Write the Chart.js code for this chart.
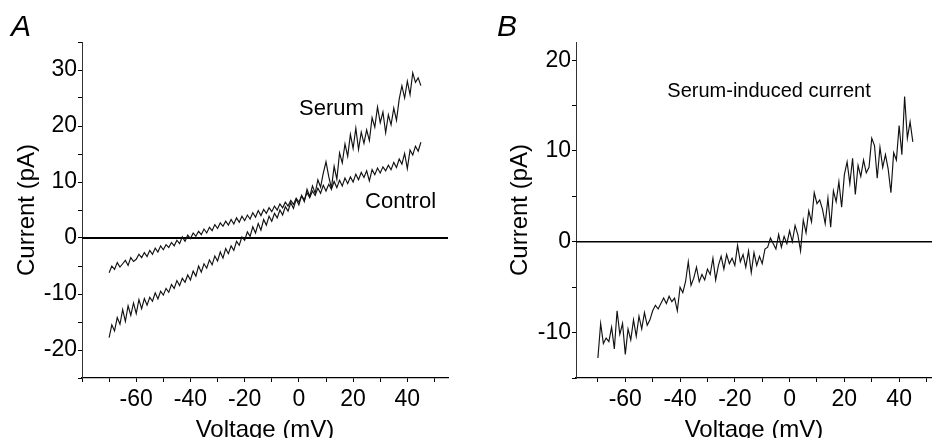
<!DOCTYPE html>
<html>
<head>
<meta charset="utf-8">
<title>I-V curves</title>
<script src="https://cdn.jsdelivr.net/npm/chart.js@4.4.0/dist/chart.umd.min.js"></script>
<style>
html, body { margin: 0; padding: 0; background: #fff; }
#wrap { position: relative; width: 932px; height: 438px; overflow: hidden; }
.box { position: absolute; top: 0; width: 466px; height: 438px; }
#boxA { left: 0; }
#boxB { left: 466px; }
.panel { position: absolute; top: 9px; font-family: "Liberation Sans", Arial, sans-serif; font-style: italic; font-size: 30px; color: #000; }
</style>
</head>
<body>
<div id="wrap">
  <div class="box" id="boxA"><canvas id="ivA" width="466" height="438"></canvas></div>
  <div class="box" id="boxB"><canvas id="ivB" width="466" height="438"></canvas></div>
  <div class="panel" style="left:11px;">A</div>
  <div class="panel" style="left:497px;">B</div>
</div>
<script>
// voltage steps (mV), same for every trace
var voltage = [
-70,-69,-68,-67,-66,-65,-64,-63,-62,-61,
-60,-59,-58,-57,-56,-55,-54,-53,-52,-51,
-50,-49,-48,-47,-46,-45,-44,-43,-42,-41,
-40,-39,-38,-37,-36,-35,-34,-33,-32,-31,
-30,-29,-28,-27,-26,-25,-24,-23,-22,-21,
-20,-19,-18,-17,-16,-15,-14,-13,-12,-11,
-10,-9,-8,-7,-6,-5,-4,-3,-2,-1,
0,1,2,3,4,5,6,7,8,9,
10,11,12,13,14,15,16,17,18,19,
20,21,22,23,24,25,26,27,28,29,
30,31,32,33,34,35,36,37,38,39,
40,41,42,43,44,45
];

// panel A, control (pA)
var controlCurrent = [
-6.2,-5.0,-5.6,-4.4,-5.2,-4.6,-4.0,-4.9,-3.5,-4.2,
-3.8,-2.9,-3.5,-2.6,-3.3,-2.2,-2.9,-1.8,-2.5,-1.4,
-2.1,-1.2,-1.7,-0.8,-1.4,-0.4,-1.0,0.2,-0.6,0.5,
-0.1,0.9,0.3,1.2,0.6,1.6,0.9,1.9,1.3,2.4,
1.7,2.7,2.1,3.0,2.3,3.3,2.5,3.6,2.8,3.9,
3.1,4.1,3.4,4.5,3.7,4.9,4.0,5.1,4.4,5.4,
4.7,5.7,5.0,6.1,5.4,6.4,5.7,6.7,6.0,7.1,
6.4,7.5,6.8,8.1,7.2,8.4,7.6,8.9,8.0,9.4,
8.4,9.6,8.7,10.1,9.0,10.3,9.3,10.7,9.7,10.9,
10.0,11.4,10.4,11.7,10.8,12.0,10.2,12.2,11.3,12.5,
11.6,12.7,12.0,13.0,12.2,13.5,12.6,14.1,13.2,15.1,
12.4,15.7,14.8,16.4,15.5,17.1
];

// panel A, serum (pA)
var serumCurrent = [
-17.8,-15.5,-16.6,-14.2,-15.4,-12.8,-14.9,-12.1,-13.8,-11.6,
-13.5,-11.0,-12.6,-10.8,-12.0,-10.6,-11.3,-9.8,-10.9,-9.5,
-10.2,-9.0,-9.7,-8.3,-9.0,-7.6,-8.5,-7.2,-7.9,-6.6,
-7.5,-5.9,-6.8,-5.0,-6.1,-4.6,-5.4,-3.9,-4.8,-3.2,
-4.1,-2.5,-3.6,-1.9,-2.8,-1.4,-2.2,-0.6,-1.3,0.2,
-0.4,1.1,0.3,2.0,0.9,2.6,1.4,3.3,2.3,3.9,
3.0,4.4,3.6,5.0,4.1,5.6,4.8,6.3,5.3,6.9,
5.9,7.6,6.5,8.7,7.4,9.3,8.0,10.4,9.1,11.6,
13.6,11.0,8.9,12.8,10.5,15.2,13.4,16.8,14.6,18.5,
16.0,19.6,15.8,18.9,16.9,19.3,17.4,21.5,19.8,23.4,
20.6,22.5,18.8,22.0,20.2,23.2,21.0,24.8,27.2,25.0,
28.0,25.6,29.5,27.8,28.6,27.2
];

// panel B, serum-induced current (pA)
var inducedCurrent = [
-12.8,-9.0,-11.2,-10.6,-11.0,-9.4,-11.8,-7.6,-10.2,-9.0,
-12.4,-9.6,-10.8,-8.6,-10.4,-8.2,-9.6,-7.8,-9.2,-8.6,
-7.6,-7.0,-7.4,-6.8,-6.2,-6.8,-6.0,-6.6,-6.2,-7.6,
-5.0,-5.6,-4.4,-2.2,-4.8,-4.0,-2.8,-4.4,-3.6,-4.2,
-3.0,-3.6,-1.8,-4.2,-2.6,-1.6,-3.0,-1.4,-2.4,-1.8,
-2.6,-0.4,-2.2,-1.4,-2.8,-1.0,-3.4,-1.2,-2.6,-1.6,
-2.4,-0.8,-0.6,0.4,-0.2,-0.8,0.8,-0.6,0.6,-0.2,
1.2,0.0,1.8,0.8,-1.0,2.4,1.0,3.4,2.2,5.4,
4.2,4.6,3.6,2.0,4.8,1.6,5.6,4.4,6.6,3.8,
7.4,8.8,6.4,9.2,5.2,8.4,7.2,9.0,7.6,8.2,
11.4,10.6,7.0,10.4,8.2,9.6,8.0,5.4,9.8,9.0,
12.8,9.6,16.0,11.4,13.2,11.0
];

// tick marks on the voltage axis, and the ones that get a number
var xTickMarks = [-80, -70, -60, -50, -40, -30, -20, -10, 0, 10, 20, 30, 40, 50];
var xLabels = [-60, -40, -20, 0, 20, 40];
var yLabelsA = [-20, -10, 0, 10, 20, 30];
var yLabelsB = [-10, 0, 10, 20];

var FONT = '"Liberation Sans", Arial, sans-serif';

function toPoints(xs, ys){
	var pts = [];
	for(var i=0;i<xs.length;i++){
		pts.push({x: xs[i], y: ys[i]});
	}
	return pts;
}

function trace(label, ys){
	return {
		label: label,
		data: toPoints(voltage, ys),
		borderColor: '#111',
		borderWidth: 1.15,
		pointRadius: 0,
		tension: 0,
		fill: false
	};
}

// zero current line + free text inside the plot
var zeroLine = {
	id: 'zeroLine',
	beforeDatasetsDraw: function(chart, args, opts){
		var ctx = chart.ctx;
		var y = chart.scales.y.getPixelForValue(0);
		ctx.save();
		ctx.strokeStyle = '#000';
		ctx.lineWidth = opts.width;
		ctx.beginPath();
		ctx.moveTo(chart.chartArea.left, y);
		ctx.lineTo(chart.chartArea.right, y);
		ctx.stroke();
		ctx.restore();
	}
};
var notes = {
	id: 'notes',
	afterDatasetsDraw: function(chart, args, opts){
		var ctx = chart.ctx;
		ctx.save();
		ctx.fillStyle = '#000';
		ctx.textAlign = 'center';
		ctx.textBaseline = 'middle';
		for(var i=0;i<opts.items.length;i++){
			var it = opts.items[i];
			ctx.font = it.size + 'px ' + FONT;
			ctx.fillText(it.text, chart.scales.x.getPixelForValue(it.x), chart.scales.y.getPixelForValue(it.y));
		}
		ctx.restore();
	}
};

function iv_chart(id, cfg){
	var ctx = document.getElementById(id).getContext('2d');
	return new Chart(ctx, {
		type: 'line',
		data: { datasets: cfg.datasets },
		plugins: [zeroLine, notes],
		options: {
			responsive: false,
			animation: false,
			layout: { padding: { top: 42, right: cfg.padRight, left: 0, bottom: 0 } },
			plugins: {
				legend: { display: false },
				tooltip: { enabled: false },
				zeroLine: { width: cfg.zeroWidth },
				notes: { items: cfg.notes }
			},
			scales: {
				x: {
					type: 'linear',
					min: cfg.xMin, max: cfg.xMax,
					afterFit: function(s){ s.height = 60; },
					afterBuildTicks: function(s){
						s.ticks = xTickMarks.filter(function(v){ return v >= cfg.xMin && v <= cfg.xMax; })
							.map(function(v){ return {value: v}; });
					},
					border: { display: true, color: '#000', width: 1.3 },
					grid: { display: true, drawOnChartArea: false, drawTicks: true, tickLength: 4, color: '#000' },
					ticks: {
						autoSkip: false, maxRotation: 0,
						color: '#000', padding: 4,
						font: { family: FONT, size: 23 },
						callback: function(v){ return xLabels.indexOf(v) >= 0 ? String(v) : ''; }
					},
					title: {
						display: true, text: 'Voltage (mV)', color: '#000',
						font: { family: FONT, size: 24, lineHeight: 1 },
						padding: { top: 0, bottom: -4 }
					}
				},
				y: {
					type: 'linear',
					min: cfg.yMin, max: cfg.yMax,
					afterFit: function(s){ s.width = cfg.yWidth; },
					border: { display: true, color: '#333', width: 1 },
					grid: { display: true, drawOnChartArea: false, drawTicks: true, tickLength: 4, color: '#000' },
					ticks: {
						stepSize: 5, includeBounds: false, autoSkip: false,
						color: '#000', padding: 1,
						font: { family: FONT, size: 23 },
						callback: function(v){ return cfg.yLabels.indexOf(v) >= 0 ? String(v) : ''; }
					},
					title: {
						display: true, text: 'Current (pA)', color: '#000',
						font: { family: FONT, size: 24, lineHeight: 1 },
						padding: { top: cfg.yTitlePad, bottom: 0 }
					}
				}
			}
		}
	});
}

var chartA = iv_chart('ivA', {
	datasets: [trace('Control', controlCurrent), trace('Serum', serumCurrent)],
	xMin: -80, xMax: 55, yMin: -25, yMax: 35,
	yLabels: yLabelsA, yWidth: 82, yTitlePad: 15, padRight: 18, zeroWidth: 2,
	notes: [
		{ text: 'Serum', x: 12, y: 23, size: 22 },
		{ text: 'Control', x: 37.5, y: 6.5, size: 22 }
	]
});

var chartB = iv_chart('ivB', {
	datasets: [trace('Serum-induced current', inducedCurrent)],
	xMin: -78, xMax: 52, yMin: -15, yMax: 22,
	yLabels: yLabelsB, yWidth: 110, yTitlePad: 42, padRight: 0, zeroWidth: 1.5,
	notes: [
		{ text: 'Serum-induced current', x: -7.5, y: 16.5, size: 20 }
	]
});
</script>
</body>
</html>
